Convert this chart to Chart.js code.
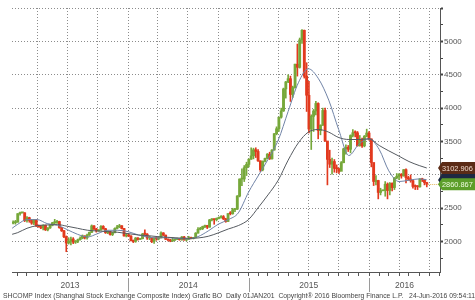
<!DOCTYPE html>
<html>
<head>
<meta charset="utf-8">
<script src="https://cdn.jsdelivr.net/npm/chart.js@4.4.0/dist/chart.umd.min.js"></script>
<style>
html, body { margin: 0; padding: 0; background: #fff; }
canvas { display: block; }
</style>
</head>
<body>
<canvas id="c" width="475" height="300"></canvas>
<script>
// weekly candles, weeks ending Fridays from 18 Jan 2013 (open = previous close)
var firstWeek = '2013-01-18';
var firstOpen = 2276;
var closes2013 = [2285, 2292, 2419, 2432, 2432, 2314, 2359, 2318, 2278, 2328, 2237, 2225, 2206, 2244, 2177, 2205, 2246, 2283, 2288, 2301,
  2210, 2162, 2073, 1979, 2007, 2039, 1992, 2010, 2029, 2052, 2085, 2057, 2098, 2139, 2236, 2191, 2160, 2174, 2228, 2193,
  2133, 2149, 2106, 2135, 2197, 2220, 2238, 2197, 2085, 2101];
var highs2013 = [2311, 2318, 2420, 2444, 2436, 2434, 2375, 2366, 2330, 2332, 2333, 2250, 2243, 2250, 2248, 2210, 2250, 2290, 2334, 2320,
  2306, 2215, 2170, 2085, 2059, 2067, 2060, 2016, 2040, 2071, 2100, 2088, 2112, 2145, 2250, 2242, 2200, 2180, 2242, 2240,
  2200, 2160, 2155, 2140, 2207, 2243, 2259, 2240, 2200, 2118];
var lows2013 = [2264, 2262, 2290, 2395, 2428, 2300, 2292, 2290, 2259, 2254, 2226, 2215, 2195, 2175, 2166, 2161, 2198, 2236, 2265, 2272,
  2200, 2152, 2060, 1849, 1963, 1951, 1970, 1973, 1985, 2021, 2042, 2040, 2036, 2092, 2135, 2180, 2142, 2155, 2172, 2185,
  2123, 2120, 2097, 2090, 2130, 2190, 2210, 2190, 2080, 2070];
var closes2014 = [2083, 2013, 2004, 2054, 2033, 2044, 2115, 2113, 2056, 2057, 2004, 2047, 2046, 2058, 2130, 2097, 2036, 2026, 2011, 2026,
  2034, 2039, 2029, 2070, 2024, 2036, 2059, 2047, 2059, 2127, 2185, 2194, 2226, 2240, 2217, 2326, 2331, 2329, 2347, 2364,
  2374, 2341, 2302, 2420, 2418, 2478, 2487, 2683, 2938, 2938, 3108, 3157];
var highs2014 = [2115, 2090, 2025, 2062, 2060, 2050, 2123, 2177, 2120, 2080, 2060, 2060, 2068, 2070, 2146, 2135, 2100, 2040, 2035, 2055,
  2040, 2055, 2046, 2077, 2080, 2046, 2080, 2067, 2065, 2135, 2210, 2215, 2232, 2248, 2245, 2333, 2346, 2340, 2355, 2370,
  2390, 2391, 2350, 2422, 2450, 2500, 2500, 2690, 2940, 3091, 3140, 3190];
var lows2014 = [2075, 2010, 1985, 1990, 2020, 2030, 2040, 2100, 2033, 2030, 1985, 1974, 2020, 2027, 2055, 2090, 2030, 2010, 1998, 2000,
  2015, 2030, 2020, 2020, 2020, 2010, 2030, 2040, 2040, 2055, 2125, 2175, 2180, 2210, 2195, 2215, 2310, 2260, 2310, 2340,
  2350, 2330, 2290, 2300, 2400, 2410, 2450, 2480, 2670, 2840, 2900, 2990];
var closes2015 = [3235, 3285, 3376, 3351, 3210, 3076, 3203, 3247, 3310, 3241, 3372, 3617, 3691, 3864, 3958, 4287, 4393, 4441, 4205, 4308,
  4658, 4611, 5023, 5166, 4478, 4193, 3687, 3877, 3957, 4070, 3664, 3744, 3965, 3508, 3232, 3160, 3200, 3097, 3092, 3053,
  3183, 3391, 3412, 3383, 3590, 3632, 3630, 3436, 3525, 3435, 3579, 3627];
var highs2015 = [3240, 3405, 3400, 3406, 3380, 3210, 3210, 3250, 3320, 3340, 3380, 3620, 3720, 3865, 4000, 4300, 4400, 4500, 4480, 4330,
  4660, 4960, 5050, 5178, 5170, 4680, 4400, 3900, 3980, 4100, 4080, 3750, 4000, 4000, 3500, 3370, 3250, 3230, 3150, 3100,
  3200, 3400, 3450, 3440, 3600, 3680, 3660, 3650, 3590, 3550, 3590, 3685];
var lows2015 = [3120, 3230, 3240, 3260, 3200, 3050, 3060, 3195, 3240, 3230, 3235, 3370, 3600, 3650, 3850, 3950, 4150, 4380, 4100, 4160,
  4300, 4480, 4600, 4970, 4450, 3950, 3630, 3380, 3650, 3900, 3540, 3600, 3740, 3500, 2850, 3110, 3010, 3040, 3030, 3020,
  3130, 3180, 3310, 3350, 3330, 3570, 3570, 3430, 3430, 3410, 3420, 3570];
var closes2016 = [3539, 3186, 2901, 2916, 2737, 2763, 2763, 2860, 2767, 2874, 2810, 2955, 2979, 3009, 2985, 3078, 2959, 2938, 2913, 2827,
  2826, 2821, 2938, 2927, 2885, 2861];
var highs2016 = [3650, 3540, 3140, 2990, 2920, 2800, 2768, 2900, 2880, 2885, 2880, 2960, 3020, 3020, 3020, 3080, 3090, 2980, 3000, 2920,
  2850, 2840, 2945, 2950, 2935, 2890];
var lows2016 = [3520, 3120, 2840, 2850, 2640, 2700, 2758, 2680, 2640, 2700, 2760, 2780, 2940, 2930, 2950, 2980, 2880, 2920, 2890, 2800,
  2780, 2780, 2815, 2900, 2850, 2820];

// moving averages
var maDates = ['2013-01-15', '2013-02-01', '2013-03-01', '2013-04-01', '2013-05-01', '2013-06-01', '2013-07-01', '2013-08-01',
  '2013-09-01', '2013-10-01', '2013-11-01', '2013-12-01', '2014-01-01', '2014-02-01', '2014-03-01', '2014-04-01', '2014-05-01',
  '2014-06-01', '2014-07-01', '2014-08-01', '2014-09-01', '2014-10-01', '2014-11-01', '2014-12-01', '2015-01-01', '2015-02-01',
  '2015-03-01', '2015-04-01', '2015-05-01', '2015-06-01', '2015-07-01', '2015-08-01', '2015-09-01', '2015-10-01', '2015-11-01',
  '2015-12-01', '2016-01-01', '2016-02-01', '2016-03-01', '2016-04-01', '2016-05-01', '2016-06-01', '2016-06-24'];
var maFast = [2200, 2260, 2330, 2330, 2270, 2245, 2180, 2110, 2070, 2120, 2170, 2170, 2150, 2100, 2070, 2055, 2060, 2045, 2040, 2075,
  2160, 2260, 2330, 2430, 2740, 3000, 3230, 3520, 3950, 4380, 4590, 4440, 4120, 3680, 3290, 3460, 3540, 3380, 3060, 2900,
  2920, 2940, 2925];
var maSlow = [2110, 2135, 2200, 2240, 2250, 2255, 2230, 2200, 2170, 2160, 2150, 2140, 2120, 2100, 2090, 2075, 2065, 2055, 2050, 2055,
  2080, 2130, 2190, 2240, 2330, 2520, 2700, 2920, 3220, 3480, 3640, 3680, 3640, 3560, 3530, 3530, 3540, 3440, 3360, 3280,
  3200, 3140, 3103];

var yearLabels = ['2013', '2014', '2015', '2016'];
var yTicks = [1750, 2000, 2250, 2500, 2750, 3000, 3250, 3500, 3750, 4000, 4250, 4500, 4750, 5000, 5250, 5500];
var lastPrice = 2860.867;
var lastSlow = 3102.906;
var footer = 'SHCOMP Index (Shanghai Stock Exchange Composite Index) Grafic BO  Daily 01JAN201  Copyright\u00ae 2016 Bloomberg Finance L.P.   24-Jun-2016 09:54:11';

function dayOf(s) { return (Date.parse(s) - Date.parse('2013-01-01')) / 864e5; }

var closes = closes2013.concat(closes2014, closes2015, closes2016);
var highs = highs2013.concat(highs2014, highs2015, highs2016);
var lows = lows2013.concat(lows2014, lows2015, lows2016);
var w0 = dayOf(firstWeek);
var bodies = closes.map(function (c, i) {
  var o = i ? closes[i - 1] : firstOpen;
  return { x: w0 + 7 * i, y: [o, c], up: c >= o };
});
var wicks = closes.map(function (c, i) {
  return { x: w0 + 7 * i, y: [lows[i], highs[i]], up: bodies[i].up };
});
var fastPts = maDates.map(function (d, i) { return { x: dayOf(d), y: maFast[i] }; });
var slowPts = maDates.map(function (d, i) { return { x: dayOf(d), y: maSlow[i] }; });

var xMin = 13.6, xMax = 1310;
var monthTicks = [];
for (var yy = 2013; yy <= 2016; yy++) {
  for (var m = 0; m < 12; m++) {
    var d = dayOf(yy + '-' + (m < 9 ? '0' : '') + (m + 1) + '-01');
    if (d >= xMin && d <= xMax) monthTicks.push({ value: d, major: m % 3 === 0 });
  }
}

var font = 'Liberation Sans, Arial, sans-serif';
var upColor = '#76a83a', downColor = '#e2391e';

var extras = {
  id: 'extras',
  afterDatasetsDraw: function (chart) {
    var ctx = chart.ctx, xs = chart.scales.x, ys = chart.scales.y, a = chart.chartArea;
    // dotted last price line
    var ly = Math.round(ys.getPixelForValue(lastPrice)) + 0.5;
    ctx.save();
    ctx.strokeStyle = '#e3b55a';
    ctx.lineWidth = 1;
    ctx.setLineDash([1, 1]);
    ctx.beginPath();
    ctx.moveTo(xs.getPixelForValue(bodies[bodies.length - 1].x) + 1, ly);
    ctx.lineTo(a.right, ly);
    ctx.stroke();
    ctx.restore();
  },
  afterDraw: function (chart) {
    var ctx = chart.ctx, xs = chart.scales.x, ys = chart.scales.y, a = chart.chartArea;
    ctx.save();
    // year separators and labels
    ctx.strokeStyle = '#9a9a9a';
    ctx.lineWidth = 1;
    for (var i = 1; i < yearLabels.length; i++) {
      var px = Math.round(xs.getPixelForValue(dayOf(yearLabels[i] + '-01-01'))) + 0.5;
      ctx.beginPath();
      ctx.moveTo(px, a.bottom + 6);
      ctx.lineTo(px, a.bottom + 20);
      ctx.stroke();
    }
    ctx.fillStyle = '#555';
    ctx.font = '8.5px ' + font;
    ctx.textAlign = 'center';
    ctx.textBaseline = 'middle';
    yearLabels.forEach(function (yl) {
      var s = Math.max(dayOf(yl + '-01-01'), xMin);
      var e = Math.min(dayOf((+yl + 1) + '-01-01'), xMax);
      ctx.fillText(yl, (xs.getPixelForValue(s) + xs.getPixelForValue(e)) / 2, a.bottom + 14);
    });
    // footer
    ctx.font = '6.8px ' + font;
    ctx.textAlign = 'left';
    ctx.fillStyle = '#444';
    ctx.fillText(footer, 3, 296.5);

    // price tags on the right axis
    function tag(v, bg, fg, text) {
      var y = ys.getPixelForValue(v);
      ctx.fillStyle = bg;
      ctx.beginPath();
      ctx.moveTo(a.right - 2, y);
      ctx.lineTo(a.right + 2, y - 6);
      ctx.lineTo(475, y - 6);
      ctx.lineTo(475, y + 6);
      ctx.lineTo(a.right + 2, y + 6);
      ctx.closePath();
      ctx.fill();
      if (text) {
        ctx.fillStyle = fg;
        ctx.font = '7.4px ' + font;
        ctx.textAlign = 'left';
        ctx.fillText(text, a.right + 2, y + 0.5);
      }
    }
    tag(maFast[maFast.length - 1], '#1d2942', '#fff', '');
    tag(lastSlow, '#5b2b16', '#f3ddd0', lastSlow.toFixed(3));
    tag(lastPrice, '#5c9e2a', '#eefbe0', lastPrice.toFixed(3));
    ctx.restore();
  }
};

function candleColor(c) { return c.raw && c.raw.up ? upColor : downColor; }

new Chart(document.getElementById('c'), {
  type: 'bar',
  data: {
    datasets: [
      {
        type: 'line',
        data: slowPts,
        borderColor: '#555a60',
        borderWidth: 1,
        pointRadius: 0,
        cubicInterpolationMode: 'monotone',
        order: 1
      },
      {
        type: 'line',
        data: fastPts,
        borderColor: '#7083a6',
        borderWidth: 1,
        pointRadius: 0,
        cubicInterpolationMode: 'monotone',
        order: 2
      },
      {
        data: bodies,
        backgroundColor: candleColor,
        barThickness: 2.2,
        minBarLength: 1,
        grouped: false,
        order: 3
      },
      {
        data: wicks,
        backgroundColor: candleColor,
        barThickness: 1,
        grouped: false,
        order: 4
      }
    ]
  },
  options: {
    responsive: false,
    animation: false,
    devicePixelRatio: 1,
    layout: { padding: { left: 12, top: 8, right: 0, bottom: 0 } },
    plugins: { legend: { display: false }, tooltip: { enabled: false } },
    scales: {
      x: {
        type: 'linear',
        min: xMin,
        max: xMax,
        offset: false,
        afterBuildTicks: function (s) { s.ticks = monthTicks.map(function (t) { return { value: t.value, major: t.major }; }); },
        afterFit: function (s) { s.height = 28; },
        grid: {
          offset: false,
          color: function (c) { return c.tick && c.tick.major ? '#8c8c8c' : 'rgba(0,0,0,0)'; },
          tickColor: '#555',
          tickLength: 4
        },
        border: { display: true, color: '#555', width: 1, dash: [1, 2] },
        ticks: { display: false, autoSkip: false, callback: function () { return ''; } }
      },
      y: {
        position: 'right',
        min: 1545,
        max: 5500,
        afterBuildTicks: function (s) { s.ticks = yTicks.map(function (v) { return { value: v }; }); },
        afterFit: function (s) { s.width = 35; },
        grid: {
          color: function (c) { return c.tick && c.tick.value % 500 === 0 ? '#8c8c8c' : 'rgba(0,0,0,0)'; },
          tickColor: '#444',
          tickWidth: function (c) { return c.tick && c.tick.value % 500 === 0 ? 2 : 1; },
          tickLength: 3
        },
        border: { display: true, color: '#555', width: 1, dash: [1, 2] },
        ticks: {
          padding: 1,
          autoSkip: false,
          color: '#555',
          font: { family: font, size: 8 },
          callback: function (v) { return v % 500 === 0 && v < 5500 ? String(v) : ''; }
        }
      }
    }
  },
  plugins: [extras]
});
</script>
</body>
</html>
